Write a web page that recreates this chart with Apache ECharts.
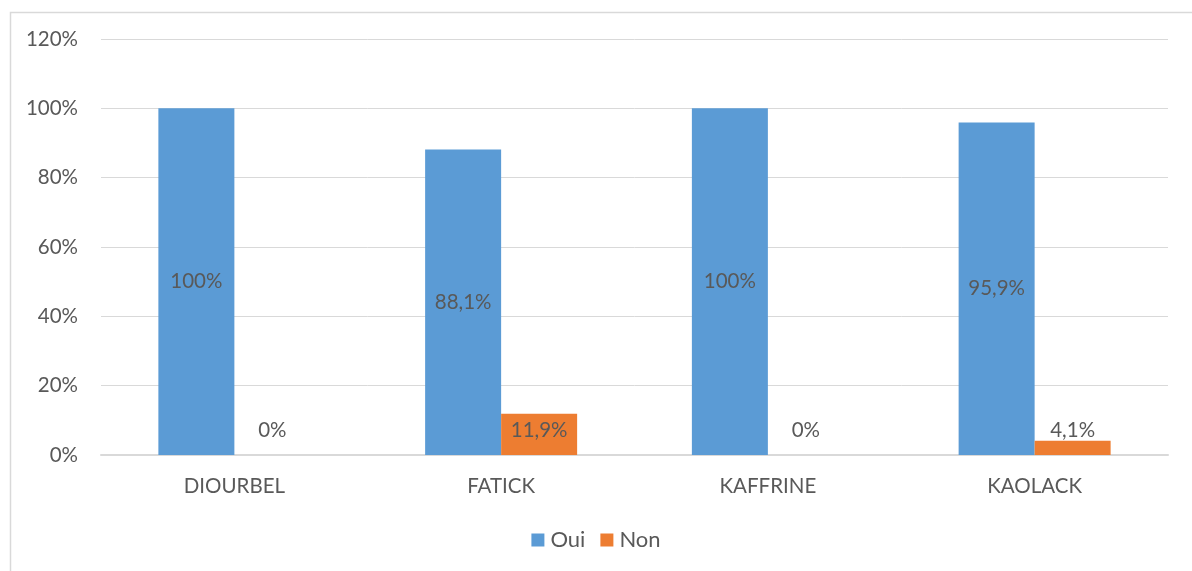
<!DOCTYPE html>
<html>
<head>
<meta charset="utf-8">
<script src="https://cdn.jsdelivr.net/npm/echarts@6/dist/echarts.min.js"></script>
<style>
  html, body { margin: 0; padding: 0; background: #fff; }
  #chart { width: 1192px; height: 571px; }
</style>
</head>
<body>
<div id="chart"></div>
<script>
// Regions and share of answers (%)
const regions = ['DIOURBEL', 'FATICK', 'KAFFRINE', 'KAOLACK'];
const ouiValues = [100, 88.1, 100, 95.9];
const nonValues = [0, 11.9, 0, 4.1];
const yTicks = [0, 20, 40, 60, 80, 100, 120];

const FONT = 'Lato, "Open Sans", sans-serif';
const TEXT = '#595959';
const FS = 20.5;

// Format a percent with a decimal comma, dropping ".0"
function pct(v) {
  return (Math.round(v * 10) / 10).toString().replace('.', ',') + '%';
}

// Non labels: small bars get the label above, taller ones inside near the top
const nonData = nonValues.map(v => {
  const item = { value: v };
  if (v >= 8) {
    item.label = { position: 'insideTop', distance: 6 };
  } else if (v === 0) {
    item.label = { position: 'top', distance: 14 };
  } else {
    item.label = { position: 'top', distance: 0 };
  }
  return item;
});

const chart = echarts.init(document.getElementById('chart'));
chart.setOption({
  animation: false,
  backgroundColor: '#fff',
  graphic: [{
    type: 'rect',
    left: 8, top: 10,
    shape: { width: 1300, height: 700 },
    style: { fill: 'none', stroke: '#d9d9d9', lineWidth: 1.5 },
    z: -1
  }],
  grid: { left: 101, right: 24, top: 39, bottom: 116, containLabel: false },
  legend: {
    bottom: 15,
    left: 'center',
    itemWidth: 13,
    itemHeight: 13,
    itemGap: 15,
    icon: 'rect',
    textStyle: { fontFamily: FONT, fontSize: 22, color: TEXT, padding: [0, 0, 0, 1] },
    data: ['Oui', 'Non']
  },
  xAxis: {
    type: 'category',
    data: regions,
    axisLine: { lineStyle: { color: '#d9d9d9', width: 2 } },
    axisTick: { show: false },
    axisLabel: { fontFamily: FONT, fontSize: FS, color: TEXT, margin: 21 }
  },
  yAxis: {
    type: 'value',
    min: yTicks[0],
    max: yTicks[yTicks.length - 1],
    interval: 20,
    axisLine: { show: false },
    axisTick: { show: false },
    splitLine: { lineStyle: { color: '#d9d9d9', width: 1 } },
    axisLabel: {
      fontFamily: FONT, fontSize: FS, color: TEXT, margin: 23,
      formatter: v => v + '%'
    }
  },
  series: [
    {
      name: 'Oui',
      type: 'bar',
      data: ouiValues,
      barWidth: 76,
      barGap: '0%',
      itemStyle: { color: '#5b9bd5' },
      label: {
        show: true,
        position: 'inside',
        fontFamily: FONT, fontSize: FS, color: TEXT,
        formatter: p => pct(p.value)
      }
    },
    {
      name: 'Non',
      type: 'bar',
      data: nonData,
      barWidth: 76,
      barGap: '0%',
      itemStyle: { color: '#ed7d31' },
      label: {
        show: true,
        fontFamily: FONT, fontSize: FS, color: TEXT,
        formatter: p => pct(p.value)
      }
    }
  ]
});
</script>
</body>
</html>
